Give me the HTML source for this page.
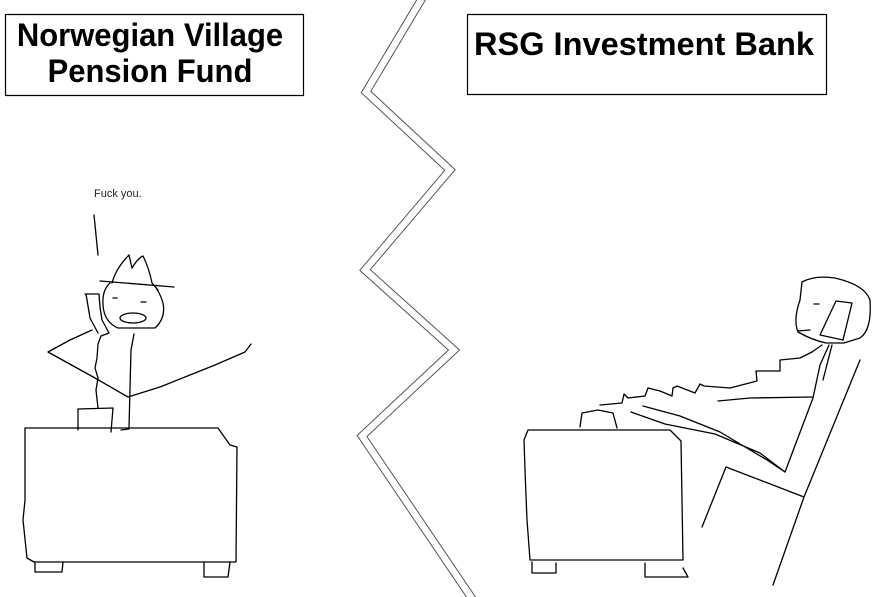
<!DOCTYPE html>
<html><head><meta charset="utf-8"><style>
html,body{margin:0;padding:0;background:#fff;width:876px;height:597px;overflow:hidden}
svg{display:block}
.t{font-family:"Liberation Sans",sans-serif;font-weight:bold;font-size:31px;fill:#000}
</style></head><body>
<svg width="876" height="597" viewBox="0 0 876 597" xmlns="http://www.w3.org/2000/svg">
<g fill="none" stroke="#000" stroke-width="1.3" stroke-linejoin="round" stroke-linecap="round">
<rect x="5.5" y="14.5" width="298" height="81" stroke-width="1.2"/>
<rect x="467.5" y="14.5" width="359" height="80" stroke-width="1.2"/>
<polyline stroke="#555" stroke-width="8.5" stroke-linejoin="miter" stroke-miterlimit="10" stroke-linecap="butt" points="424,-5 366,92 450,170 365,270 454,350 362,436 473,600"/>
<polyline stroke="#fff" stroke-width="6.5" stroke-linejoin="miter" stroke-miterlimit="10" stroke-linecap="butt" points="424,-5 366,92 450,170 365,270 454,350 362,436 473,600"/>
<path d="M94,215 L98,255"/>
<path d="M112,283 Q116,268 129,255 L132,268 Q138,258 143,256 Q149,268 152,283 L158,290"/>
<path d="M100,281 L174,287"/>
<path d="M110,283 Q102,290 103,305 Q104,322 118,328 L155,328 Q166,318 163,303 Q160,292 153,284"/>
<ellipse cx="133" cy="318" rx="13" ry="5"/>
<path d="M113,298 L117,298 M141,302 L146,302"/>
<path d="M85,294 L99,294 L100,307 L102,320 L109,333 L101,336 L98,344 L97,358 L95,368 L98,378 L96,390 L98,408"/>
<path d="M86,294 L90,318 L98,333"/>
<path d="M134,334 L131,350 L129,428"/>
<path d="M48,352 L70,340 L92,330 M48,352 L95,378 L128,397 L160,387 L215,365 L245,352 L251,344"/>
<path d="M78,430 L78,409 L113,408 L111,432"/>
<path d="M25,428 L218,428 L230,445 L237,447 L236,562 M25,428 L25,500 L23,520 L27,558 L34,562 L236,562"/>
<path d="M35,562 L35,572 L62,572 L63,562 M204,562 L204,577 L228,577 L230,562"/>
<path d="M121,430 L129,429"/>
<path d="M528,430 L670,430 L681,441 L683,560 M528,430 L524,440 L525,470 L527,520 L530,560 L683,560"/>
<path d="M532,562 L532,573 L556,573 L556,563 M645,563 L645,577 L688,577 L683,568"/>
<path d="M580,427 L582,413 L598,410 L613,413 L617,428"/>
<path d="M802,282 Q815,275 835,278 Q865,285 870,300 Q872,330 860,338 L844,343 L826,343 Q812,340 798,332 Q793,320 800,300 Z"/>
<path d="M836,301 L852,303 L843,340 L820,335 Z"/>
<path d="M814,304 L819,304 M798,331 L810,330"/>
<path d="M600,405 L622,403 L624,394 L628,398 L645,396 L648,388 L660,391 L672,396 L673,388 L677,386 L695,393 L700,384 L704,386 L730,388 L757,381 L756,371 L780,371 L780,360 L800,358 L812,352 L822,345"/>
<path d="M718,401 L750,398 L812,397"/>
<path d="M829,345 L820,365 L813,398 L785,472"/>
<path d="M832,345 L823,380"/>
<path d="M631,412 L665,424 L715,434 L760,453 L785,472 M643,406 L680,416 L720,432 L767,460 L785,472"/>
<path d="M860,360 L804,497 L726,467 L702,527 M804,497 L773,585"/>
</g>
<text class="t" transform="translate(150,46) scale(1,1.05)" text-anchor="middle">Norwegian Village</text>
<text class="t" transform="translate(150,82) scale(1,1.05)" text-anchor="middle">Pension Fund</text>
<text class="t" transform="translate(644,55) scale(1.05,1.05)" text-anchor="middle">RSG Investment Bank</text>
<text x="94" y="197" font-family="Liberation Sans, sans-serif" font-size="11" fill="#222">Fuck you.</text>
</svg>
</body></html>
